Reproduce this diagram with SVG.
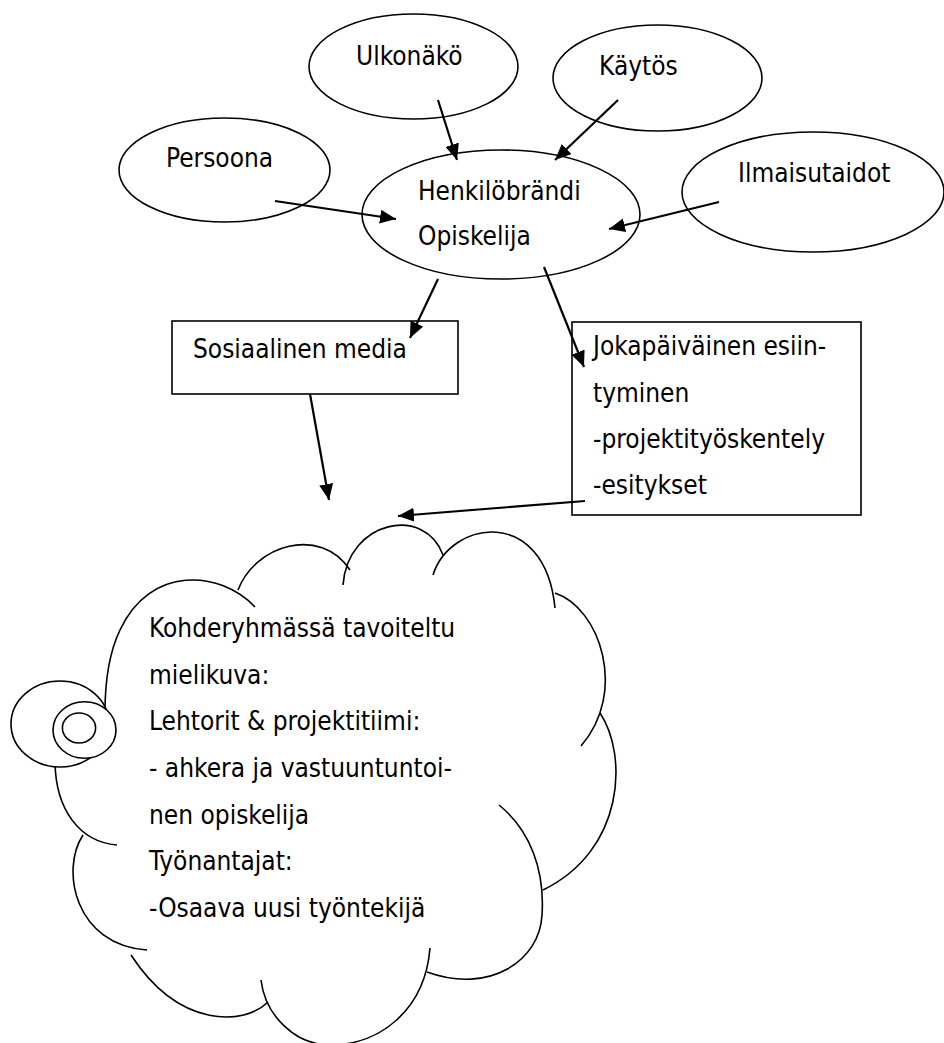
<svg xmlns="http://www.w3.org/2000/svg" width="944" height="1043" viewBox="0 0 944 1043">
  <defs>
    <marker id="arrow" markerUnits="userSpaceOnUse" markerWidth="17" markerHeight="14" refX="16" refY="7" orient="auto">
      <path d="M0,0 L16,7 L0,14 z" fill="#000"/>
    </marker>
    <style>
      .shape { fill: #fff; stroke: #000; stroke-width: 1.6; }
      .lbl { font-family: "DejaVu Sans Condensed", "DejaVu Sans", sans-serif; font-stretch: condensed; font-size: 26px; fill: #000; }
      .conn line { stroke: #000; stroke-width: 2.2; marker-end: url(#arrow); }
      .outline { fill: none; stroke: #000; stroke-width: 1.6; }
    </style>
  </defs>

  <rect width="944" height="1043" fill="#fff"/>

  <!-- outer ovals -->
  <g id="node-ulkonako">
    <ellipse class="shape" cx="413.5" cy="66.5" rx="104.5" ry="52.5"/>
    <text class="lbl" x="356" y="65">Ulkonäkö</text>
  </g>
  <g id="node-kaytos">
    <ellipse class="shape" cx="657.5" cy="78" rx="104.5" ry="53"/>
    <text class="lbl" x="599" y="75">Käytös</text>
  </g>
  <g id="node-persoona">
    <ellipse class="shape" cx="224.5" cy="170" rx="105.5" ry="52"/>
    <text class="lbl" x="166" y="167">Persoona</text>
  </g>
  <g id="node-ilmaisutaidot">
    <ellipse class="shape" cx="813" cy="192" rx="131" ry="60"/>
    <text class="lbl" x="738" y="182">Ilmaisutaidot</text>
  </g>

  <!-- central oval -->
  <g id="node-henkilobrandi">
    <ellipse class="shape" cx="501" cy="214.5" rx="139" ry="64.5"/>
    <text class="lbl" x="418" y="200">Henkilöbrändi</text>
    <text class="lbl" x="418" y="245">Opiskelija</text>
  </g>

  <!-- channel boxes -->
  <g id="node-some">
    <rect class="shape" x="172" y="321" width="286" height="73"/>
    <text class="lbl" x="193" y="358">Sosiaalinen media</text>
  </g>
  <g id="node-esiintyminen">
    <rect class="shape" x="572" y="322" width="289" height="193"/>
    <text class="lbl" x="593" y="355">Jokapäiväinen esiin-</text>
    <text class="lbl" x="593" y="402">tyminen</text>
    <text class="lbl" x="593" y="448">-projektityöskentely</text>
    <text class="lbl" x="593" y="494">-esitykset</text>
  </g>

  <!-- thought cloud with its trailing bubbles -->
  <g id="node-mielikuva">
    <path class="outline" d="
      M255,607 C220,570 150,565 120,630 C108,655 105,685 105,712
      M238,590 C255,545 320,525 350,570
      M343,585 C348,520 425,505 443,555
      M433,575 C450,520 545,505 555,608
      M555,593 C600,608 628,692 581,746
      M600,713 C628,755 625,850 543,890
      M499,805 C530,830 545,870 542,915 C540,960 490,995 427,972
      M430,948 C425,1010 380,1045 330,1045 C295,1045 265,1015 261,980
      M268,1002 C245,1025 180,1030 131,955
      M83,835 C60,870 75,945 147,950
      M55,760 C55,810 80,842 117,845"/>
    <ellipse class="shape" cx="60" cy="724" rx="49" ry="43"/>
    <ellipse class="shape" cx="84.5" cy="730" rx="31.5" ry="28.3"/>
    <ellipse class="shape" cx="79" cy="728" rx="16.6" ry="15"/>
    <text class="lbl" x="149" y="637">Kohderyhmässä tavoiteltu</text>
    <text class="lbl" x="149" y="683.5">mielikuva:</text>
    <text class="lbl" x="149" y="730">Lehtorit &amp; projektitiimi:</text>
    <text class="lbl" x="149" y="777">- ahkera ja vastuuntuntoi-</text>
    <text class="lbl" x="149" y="823.5">nen opiskelija</text>
    <text class="lbl" x="149" y="870">Työnantajat:</text>
    <text class="lbl" x="149" y="917">-Osaava uusi työntekijä</text>
  </g>

  <!-- arrows -->
  <g id="connectors" class="conn">
    <line x1="438" y1="100" x2="457" y2="160"/>
    <line x1="618" y1="100" x2="555" y2="160"/>
    <line x1="275" y1="201" x2="396" y2="219"/>
    <line x1="719" y1="202" x2="609" y2="229"/>
    <line x1="438" y1="279" x2="410" y2="338"/>
    <line x1="544" y1="267" x2="584" y2="367"/>
    <line x1="310" y1="394" x2="329" y2="500"/>
    <line x1="585" y1="501" x2="398" y2="516"/>
  </g>
</svg>
